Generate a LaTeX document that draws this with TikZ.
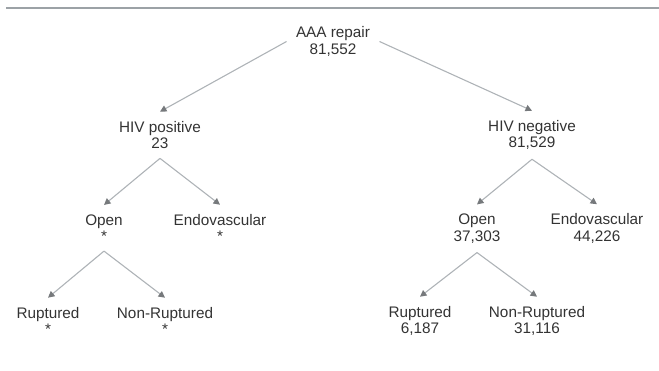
\documentclass[tikz,border=0pt]{standalone}
\usepackage{fontspec}
\setmainfont{Liberation Sans}
\usetikzlibrary{arrows.meta}
\definecolor{rulegray}{HTML}{9CA2A6}
\definecolor{linegray}{HTML}{AEB3B7}
\definecolor{tipgray}{HTML}{76797C}
\definecolor{textgray}{HTML}{333333}

\begin{document}
\begin{tikzpicture}[x=1pt,y=-1pt,>=latex,
  box/.style={align=center,inner xsep=9.5pt,inner ysep=9.5pt,outer sep=0pt,
    text=textgray,font=\fontsize{15.3}{16.5}\selectfont},
  link/.style={draw=linegray,line width=1.1pt,
    -{Triangle[length=6.5pt,width=6.5pt,color=tipgray]}}]
  \useasboundingbox (0,0) rectangle (659,370);
  \draw[rulegray,line width=1.5pt] (6,8)--(659,8);
  % root
  \node[box] (root) at (333,41.5) {AAA repair\\81,552};
  % HIV status
  \node[box] (hp) at (160,135) {HIV positive\\23};
  \node[box] (hn) at (532,135) {HIV negative\\81,529};
  % repair type
  \node[box] (po) at (104,228) {Open\\*};
  \node[box] (pe) at (220,228) {Endovascular\\*};
  \node[box] (no) at (477,228.5) {Open\\37,303};
  \node[box] (ne) at (597,228.5) {Endovascular\\44,226};
  % rupture
  \node[box] (pr) at (48,321) {Ruptured\\*};
  \node[box] (pn) at (165,321) {Non-Ruptured\\*};
  \node[box] (nr) at (420,321) {Ruptured\\6,187};
  \node[box] (nn) at (537,321) {Non-Ruptured\\31,116};
  \draw[link] (root.west)--(hp.north);
  \draw[link] (root.east)--(hn.north);
  \draw[link] (hp.south)--(po.north);
  \draw[link] (hp.south)--(pe.north);
  \draw[link] (hn.south)--(no.north);
  \draw[link] (hn.south)--(ne.north);
  \draw[link] (po.south)--(pr.north);
  \draw[link] (po.south)--(pn.north);
  \draw[link] (no.south)--(nr.north);
  \draw[link] (no.south)--(nn.north);
\end{tikzpicture}
\end{document}
